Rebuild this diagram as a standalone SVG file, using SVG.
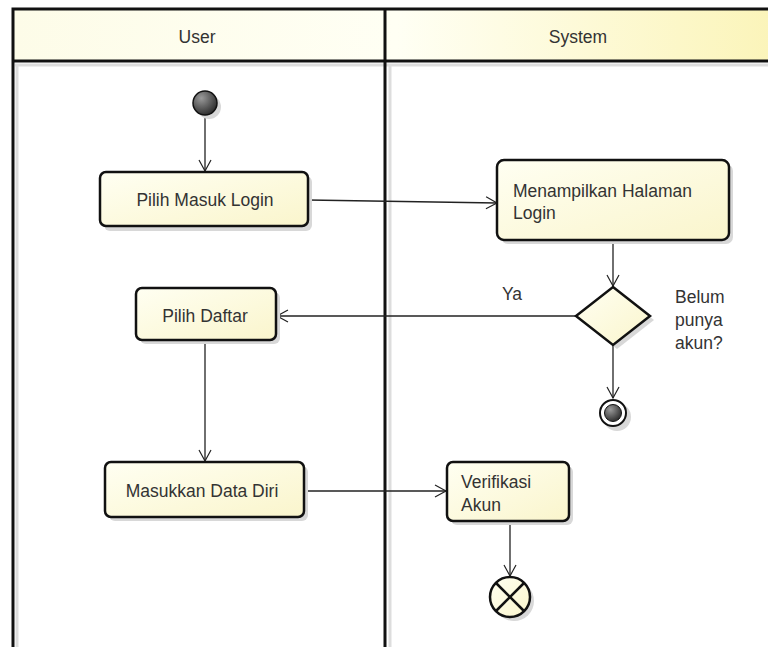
<svg xmlns="http://www.w3.org/2000/svg" width="768" height="647" viewBox="0 0 768 647">
<defs>
<linearGradient id="hdr" x1="0" y1="0" x2="1" y2="0">
<stop offset="0" stop-color="#fdfce8"/><stop offset="0.5" stop-color="#fffff4"/><stop offset="1" stop-color="#fbf4b8"/>
</linearGradient>
<linearGradient id="act" x1="0" y1="0" x2="1" y2="1">
<stop offset="0" stop-color="#fffff2"/><stop offset="1" stop-color="#faf5cc"/>
</linearGradient>
<radialGradient id="dot" cx="0.35" cy="0.3" r="0.8">
<stop offset="0" stop-color="#9a9a9a"/><stop offset="1" stop-color="#222"/>
</radialGradient>
<marker id="arr" markerWidth="14" markerHeight="14" refX="12" refY="7" orient="auto" markerUnits="userSpaceOnUse">
<path d="M1,1 L12,7 L1,13" fill="none" stroke="#222" stroke-width="1.2"/>
</marker>
<style>
.act{fill:url(#act);stroke:#111;stroke-width:2.5}
.sh{fill:#d8d8d8}
.t{font-family:"Liberation Sans",Arial,sans-serif;font-size:17.5px;fill:#333}
.c{stroke:#222;stroke-width:1.3;fill:none;marker-end:url(#arr)}
.lane{stroke:#111;stroke-width:3;fill:none}
.ghost{stroke:#ddd;stroke-width:3;fill:none}
</style>
</defs>
<g id="lanes">
<rect x="12" y="8" width="770" height="53" fill="url(#hdr)"/>
<line class="ghost" x1="17" y1="66" x2="17" y2="647"/>
<line class="ghost" x1="390" y1="66" x2="390" y2="647"/>
<line class="ghost" x1="15" y1="65" x2="768" y2="65"/>
<path class="lane" d="M13,647 V9 H768"/>
<line class="lane" x1="13" y1="61" x2="768" y2="61"/>
<line class="lane" x1="385" y1="9" x2="385" y2="647"/>
<text class="t" x="197" y="43" text-anchor="middle">User</text>
<text class="t" x="578" y="43" text-anchor="middle">System</text>
</g>
<g id="connectors">
<line class="c" x1="205" y1="115" x2="205" y2="171"/>
<line class="c" x1="308" y1="200" x2="497" y2="203"/>
<line class="c" x1="613" y1="240" x2="613" y2="286"/>
<line class="c" x1="576" y1="316" x2="277" y2="316"/>
<line class="c" x1="613" y1="345" x2="613" y2="398"/>
<line class="c" x1="205" y1="340" x2="205" y2="461"/>
<line class="c" x1="304" y1="491" x2="446" y2="491"/>
<line class="c" x1="510" y1="521" x2="510" y2="576"/>
<text class="t" x="512" y="300" text-anchor="middle">Ya</text>
</g>
<g id="start">
<circle cx="209" cy="107" r="12" fill="#d8d8d8"/>
<circle cx="205" cy="103" r="12" fill="url(#dot)" stroke="#111" stroke-width="1.5"/>
</g>
<g id="pilih-masuk">
<rect class="sh" x="104" y="176" width="208" height="55" rx="6"/>
<rect class="act" x="100" y="172" width="208" height="54" rx="6"/>
<text class="t" x="205" y="206" text-anchor="middle">Pilih Masuk Login</text>
</g>
<g id="menampilkan">
<rect class="sh" x="501" y="164" width="232" height="80" rx="7"/>
<rect class="act" x="497" y="160" width="232" height="80" rx="7"/>
<text class="t" x="513" y="197">Menampilkan Halaman</text>
<text class="t" x="513" y="219">Login</text>
</g>
<g id="decision">
<path d="M617,291 L654,320 L617,349 L580,320 Z" fill="#d8d8d8"/>
<path d="M613,287 L650,316 L613,345 L576,316 Z" fill="url(#act)" stroke="#111" stroke-width="2.5"/>
<text class="t" x="675" y="303">Belum</text>
<text class="t" x="675" y="326">punya</text>
<text class="t" x="675" y="349">akun?</text>
</g>
<g id="final">
<circle cx="617" cy="417" r="14" fill="#d8d8d8"/>
<circle cx="613" cy="413" r="13" fill="#fff" stroke="#111" stroke-width="2"/>
<circle cx="613" cy="413" r="8.5" fill="url(#dot)" stroke="#111" stroke-width="1"/>
</g>
<g id="pilih-daftar">
<rect class="sh" x="140" y="292" width="140" height="52" rx="6"/>
<rect class="act" x="136" y="288" width="140" height="52" rx="6"/>
<text class="t" x="205" y="322" text-anchor="middle">Pilih Daftar</text>
</g>
<g id="masukkan">
<rect class="sh" x="109" y="466" width="199" height="55" rx="6"/>
<rect class="act" x="105" y="462" width="199" height="55" rx="6"/>
<text class="t" x="202" y="497" text-anchor="middle">Masukkan Data Diri</text>
</g>
<g id="verifikasi">
<rect class="sh" x="451" y="466" width="122" height="59" rx="6"/>
<rect class="act" x="447" y="462" width="122" height="59" rx="6"/>
<text class="t" x="461" y="488">Verifikasi</text>
<text class="t" x="461" y="511">Akun</text>
</g>
<g id="flow-final">
<circle cx="514" cy="601" r="20" fill="#d8d8d8"/>
<circle cx="510" cy="597" r="20" fill="url(#act)" stroke="#111" stroke-width="2.5"/>
<line x1="496" y1="583" x2="524" y2="611" stroke="#111" stroke-width="2.5"/>
<line x1="524" y1="583" x2="496" y2="611" stroke="#111" stroke-width="2.5"/>
</g>
</svg>
